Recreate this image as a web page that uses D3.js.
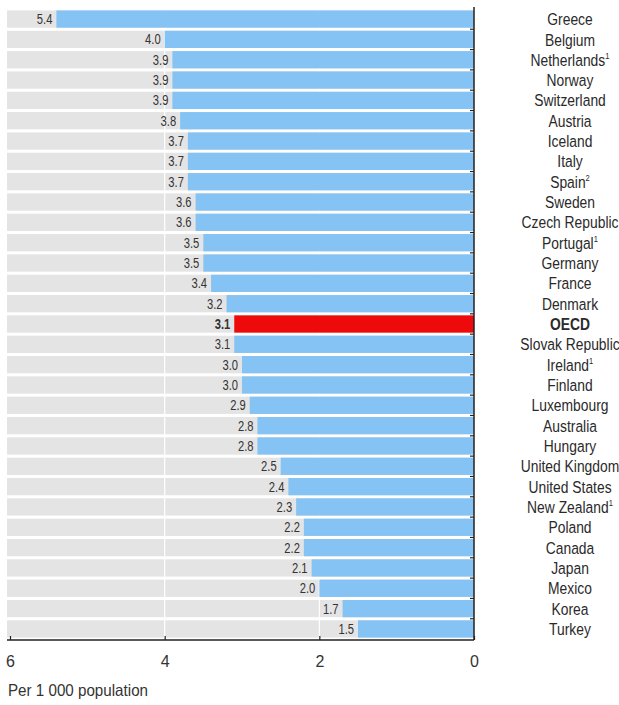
<!DOCTYPE html>
<html><head><meta charset="utf-8">
<script src="https://cdn.jsdelivr.net/npm/d3@7"></script>
<style>body{margin:0;background:#fff}svg{display:block}</style>
</head><body>
<svg id="c" width="619" height="705"></svg>
<script>
const countries = ["Greece","Belgium","Netherlands","Norway","Switzerland","Austria","Iceland","Italy","Spain","Sweden","Czech Republic","Portugal","Germany","France","Denmark","OECD","Slovak Republic","Ireland","Finland","Luxembourg","Australia","Hungary","United Kingdom","United States","New Zealand","Poland","Canada","Japan","Mexico","Korea","Turkey"];
const notes = ["","","1","","","","","","2","","","1","","","","","","1","","","","","","","1","","","","","",""];
const values = [5.4,4.0,3.9,3.9,3.9,3.8,3.7,3.7,3.7,3.6,3.6,3.5,3.5,3.4,3.2,3.1,3.1,3.0,3.0,2.9,2.8,2.8,2.5,2.4,2.3,2.2,2.2,2.1,2.0,1.7,1.5];
const xTicks = [6,4,2,0];
const axisTitle = "Per 1 000 population";
const highlight = "OECD";

(function(){
const svg = d3.select("#c");
const L = 7, R = 474, T = 9, B = 639;
const x = d3.scaleLinear().domain([6,0]).range([L+3, R]);
const y = d3.scaleBand().domain(countries).range([T, B]).paddingInner(0.15).paddingOuter(0.07);
const font = "'Liberation Sans',Arial,sans-serif";

svg.append("g").selectAll("rect").data(countries).join("rect")
  .attr("x", L).attr("width", R-L)
  .attr("y", d=>y(d)).attr("height", y.bandwidth())
  .attr("fill", "#e4e4e4");
svg.append("g").selectAll("line").data([4,2]).join("line")
  .attr("x1", d=>x(d)).attr("x2", d=>x(d)).attr("y1", T).attr("y2", B)
  .attr("stroke", "#fff").attr("stroke-width", 1.2);
svg.append("g").selectAll("rect").data(countries).join("rect")
  .attr("x", (d,i)=>x(values[i])).attr("width", (d,i)=>x(0)-x(values[i]))
  .attr("y", d=>y(d)).attr("height", y.bandwidth())
  .attr("fill", d=> d===highlight ? "#ee0a0a" : "#85c3f4");
svg.append("g").selectAll("text").data(countries).join("text")
  .attr("transform", (d,i)=>`translate(${x(values[i])-4},${y(d)+y.bandwidth()/2}) scale(0.8,1)`)
  .attr("dy", "0.36em").attr("text-anchor","end")
  .attr("font-family", font).attr("font-size", 14)
  .attr("font-weight", d=> d===highlight ? "bold" : "normal")
  .attr("fill", "#333")
  .text((d,i)=>values[i].toFixed(1));
const lab = svg.append("g").selectAll("text").data(countries).join("text")
  .attr("transform", d=>`translate(570,${y(d)+y.bandwidth()/2}) scale(0.84,1)`)
  .attr("dy", "0.37em").attr("text-anchor","middle")
  .attr("font-family", font).attr("font-size", 16.5)
  .attr("font-weight", d=> d===highlight ? "bold" : "normal")
  .attr("fill", "#2a2a2a");
lab.append("tspan").text(d=>d);
lab.append("tspan").attr("font-size", 9).attr("dy", "-0.8em").text((d,i)=>notes[i]);

const yAxis = svg.append("g");
yAxis.append("line").attr("x1", R).attr("x2", R).attr("y1", T-2).attr("y2", B+1)
  .attr("stroke", "#222").attr("stroke-width", 1.5);
const step = y.step();
yAxis.selectAll("line.t").data(countries.slice(1)).join("line").attr("class","t")
  .attr("x1", R-4).attr("x2", R).attr("y1", d=>y(d)-step*0.075).attr("y2", d=>y(d)-step*0.075)
  .attr("stroke", "#222").attr("stroke-width", 1.2);

const xa = svg.append("g").attr("transform", `translate(0,${B+1})`)
  .call(d3.axisBottom(x).tickValues(xTicks).tickSize(-4).tickPadding(16).tickFormat(d3.format("d")));
xa.select(".domain").attr("d", `M${L},0H${R}`).attr("stroke","#222").attr("stroke-width",1.5);
xa.selectAll(".tick line").attr("stroke","#222").attr("stroke-width",1.2);
xa.selectAll(".tick text").attr("font-family", font).attr("font-size", 16).attr("fill","#333");

svg.append("text").attr("transform", "translate(8,696) scale(0.92,1)")
  .attr("font-family", font).attr("font-size", 16.5).attr("fill","#333")
  .text(axisTitle);
})();
</script>
</body></html>
